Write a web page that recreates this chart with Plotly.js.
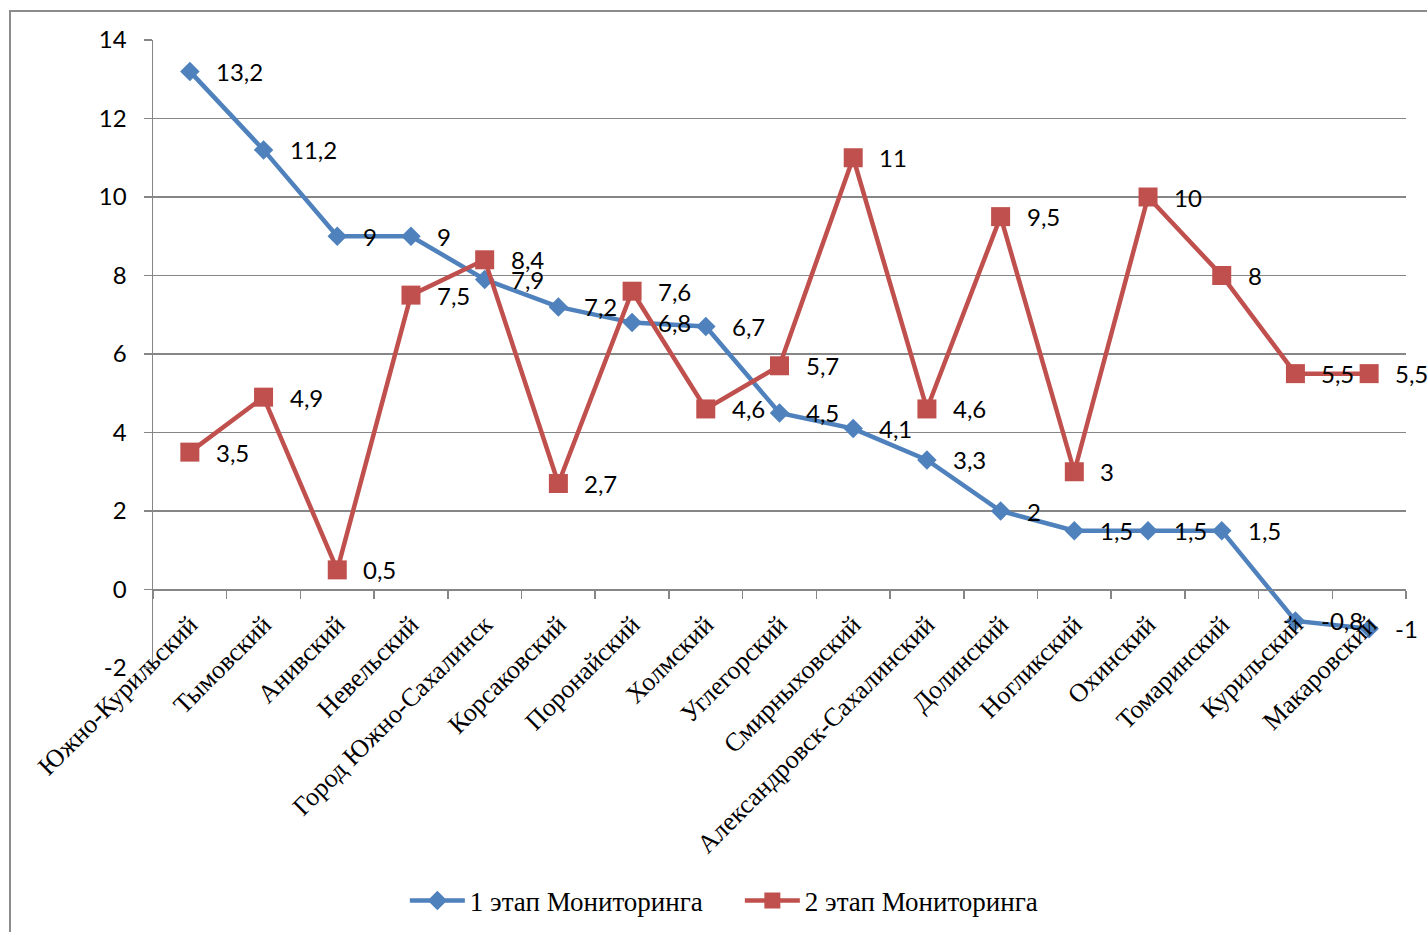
<!DOCTYPE html>
<html>
<head>
<meta charset="utf-8">
<script src="https://cdn.plot.ly/plotly-3.0.1.min.js"></script>
<style>
  html, body { margin: 0; padding: 0; background: #fff; overflow: hidden; }
  #chart { width: 1427px; height: 932px; }
  #frame { position: absolute; left: 9px; top: 10px; width: 1440px; height: 940px;
           border: 2px solid #8c8c8c; pointer-events: none; box-sizing: border-box; }
</style>
</head>
<body>
<div id="chart"></div>
<div id="frame"></div>
<script>
const categories = ["Южно-Курильский", "Тымовский", "Анивский", "Невельский", "Город Южно-Сахалинск",
  "Корсаковский", "Поронайский", "Холмский", "Углегорский", "Смирныховский",
  "Александровск-Сахалинский", "Долинский", "Ногликский", "Охинский", "Томаринский",
  "Курильский", "Макаровский"];
const stage1Name = "1 этап Мониторинга";
const stage2Name = "2 этап Мониторинга";
const stage1 = [13.2, 11.2, 9, 9, 7.9, 7.2, 6.8, 6.7, 4.5, 4.1, 3.3, 2, 1.5, 1.5, 1.5, -0.8, -1];
const stage2 = [3.5, 4.9, 0.5, 7.5, 8.4, 2.7, 7.6, 4.6, 5.7, 11, 4.6, 9.5, 3, 10, 8, 5.5, 5.5];
const yTicks = [-2, 0, 2, 4, 6, 8, 10, 12, 14];

const blue = "#4F81BD", red = "#C0504D", grid = "#868686";
const serif = "Liberation Serif, Times New Roman, serif";
const sans = "Lato, Carlito, sans-serif";

const fmt = v => String(v).replace(".", ",");

const traces = [
  { x: categories, y: stage1, name: stage1Name, type: "scatter", mode: "lines+markers",
    line: { color: blue, width: 4.5 }, marker: { symbol: "diamond", size: 15, color: blue },
    hoverinfo: "none" },
  { x: categories, y: stage2, name: stage2Name, type: "scatter", mode: "lines+markers",
    line: { color: red, width: 4.5 }, marker: { symbol: "square", size: 19, color: red },
    hoverinfo: "none" }
];

const annotations = [];
[stage1, stage2].forEach(series => {
  series.forEach((v, i) => {
    annotations.push({ x: categories[i], y: v, xref: "x", yref: "y", text: fmt(v),
      showarrow: false, xanchor: "left", yanchor: "middle", xshift: 24,
      font: { family: sans, size: 24, color: "#000" } });
  });
});

const layout = {
  width: 1427, height: 932,
  margin: { l: 153, r: 21, t: 40, b: 264, autoexpand: false },
  paper_bgcolor: "#fff", plot_bgcolor: "#fff",
  showlegend: true,
  legend: { orientation: "h", x: 0.201, xanchor: "left", y: -0.371, yanchor: "middle",
    font: { family: serif, size: 27, color: "#000" }, itemwidth: 55,
    entrywidth: 265, entrywidthmode: "pixels" },
  xaxis: { type: "category", anchor: "free", position: 0.125,
    range: [-0.5, categories.length - 0.5],
    showline: true, linecolor: grid, linewidth: 1.5,
    ticks: "outside", tickson: "boundaries", ticklen: 8, tickcolor: grid, tickwidth: 1.5,
    tickangle: -45, ticklabelstandoff: 8,
    tickfont: { family: serif, size: 26, color: "#000" },
    showgrid: false, zeroline: false, fixedrange: true },
  yaxis: { range: [-2, 14], tickvals: yTicks, ticktext: yTicks.map(String),
    showline: true, linecolor: grid, linewidth: 1.5,
    ticks: "outside", ticklen: 8, tickcolor: grid, tickwidth: 1.5,
    showgrid: true, gridcolor: grid, gridwidth: 1.5, zeroline: false,
    ticklabelstandoff: 12,
    tickfont: { family: sans, size: 24, color: "#000" }, fixedrange: true },
  annotations: annotations
};

Plotly.newPlot("chart", traces, layout, { displayModeBar: false, staticPlot: true });
</script>
</body>
</html>
